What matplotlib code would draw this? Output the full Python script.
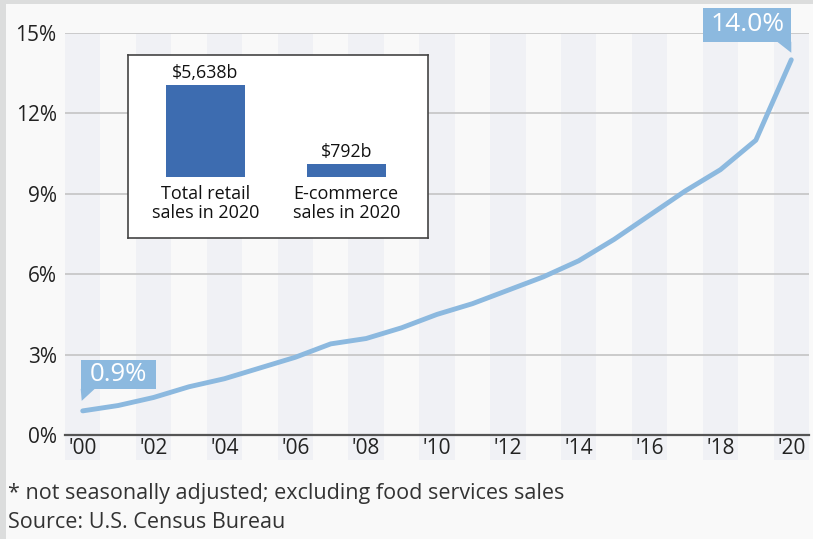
import numpy as np
import matplotlib.pyplot as plt
from matplotlib.patches import Rectangle, Polygon
from matplotlib.transforms import IdentityTransform

plt.rcParams["font.family"] = ["Open Sans", "DejaVu Sans"]

# e-commerce share of total retail sales (%)
years = np.arange(2000, 2021)
share = [0.9, 1.1, 1.4, 1.8, 2.1, 2.5, 2.9, 3.4, 3.6, 4.0, 4.5,
         4.9, 5.4, 5.9, 6.5, 7.3, 8.2, 9.1, 9.9, 11.0, 14.0]
yticks = [0, 3, 6, 9, 12, 15]
xticks = years[::2]

# inset bars (billion USD)
inset_labels = ["Total retail\nsales in 2020", "E-commerce\nsales in 2020"]
inset_values = [5638, 792]
inset_text = ["$5,638b", "$792b"]

bg = "#f9f9f9"
line_col = "#8cb9df"
bar_col = "#3d6cb0"

fig = plt.figure(figsize=(8.13, 5.39), dpi=100, facecolor=bg)
W, H = 813, 539
ax = fig.add_axes([65 / W, 104 / H, 744 / W, 402 / H])
ax.set_facecolor(bg)
ax.set_xlim(1999.5, 2020.5)
ax.set_ylim(0, 15)

# alternating year stripes, running down behind the tick labels
for yr in years[::2]:
    ax.axvspan(yr - 0.5, min(yr + 0.5, 2020.5), ymin=-25 / 402, ymax=1,
               color="#f0f1f5", lw=0, clip_on=False, zorder=0)

for t in yticks[1:]:
    ax.axhline(t, color="#c4c4c4", lw=1.2, zorder=1)

ax.plot(years, share, color=line_col, lw=3.5, solid_capstyle="round",
        solid_joinstyle="round", zorder=3)

for s in ["top", "right", "left"]:
    ax.spines[s].set_visible(False)
ax.spines["bottom"].set_color("#555555")
ax.spines["bottom"].set_linewidth(1.6)
ax.spines["bottom"].set_zorder(4)

ax.set_yticks(yticks)
ax.set_yticklabels([f"{t}%" for t in yticks])
ax.set_xticks(xticks)
ax.set_xticklabels([f"'{y % 100:02d}" for y in xticks])
ax.tick_params(axis="both", length=0, labelsize=15, colors="#222222")
ax.tick_params(axis="y", pad=6)
ax.tick_params(axis="x", pad=2)


def callout(x, y, text, dx, dy, w, h, side, fs):
    """label box placed dx/dy pixels from the point, with a small tail"""
    px, py = ax.transData.transform((x, y))
    bx, by = px + dx, py + dy
    fig.patches.append(Rectangle((bx, by), w, h, transform=IdentityTransform(),
                                 facecolor=line_col, edgecolor="none", zorder=5))
    if side == "left":
        tail = [(bx, by), (bx + 14, by), (bx + 1, by - 12)]
    else:
        tail = [(bx + w, by), (bx + w - 14, by), (bx + w, by - 11)]
    fig.patches.append(Polygon(tail, closed=True, transform=IdentityTransform(),
                               facecolor=line_col, edgecolor="none", zorder=5))
    fig.text(bx + w / 2, by + h / 2, text, transform=IdentityTransform(),
             ha="center", va="center", color="white", fontsize=fs, zorder=6)


callout(years[0], share[0], f"{share[0]:.1f}%", -2, 22, 75, 29, "left", 18.5)
callout(years[-1], share[-1], f"{share[-1]:.1f}%", -88, 18, 88, 34, "right", 19)

# inset with the two bars
ins = fig.add_axes([128 / W, 301 / H, 300 / W, 183 / H])
ins.set_facecolor("white")
for s in ins.spines.values():
    s.set_color("#444444")
    s.set_linewidth(1.2)
ins.set_xticks([])
ins.set_yticks([])
ins.set_xlim(-0.55, 1.58)
ins.set_ylim(-3738, 7477)
pos = np.arange(len(inset_values))
ins.bar(pos, inset_values, width=0.56, color=bar_col)
for p, v, t, lab in zip(pos, inset_values, inset_text, inset_labels):
    ins.annotate(t, (p, v), xytext=(0, 2), textcoords="offset points",
                 ha="center", va="bottom", fontsize=12.8, color="#111111")
    ins.annotate(lab, (p, 0), xytext=(0, -6), textcoords="offset points",
                 ha="center", va="top", fontsize=13, color="#111111",
                 linespacing=1.05)

fig.text(8 / W, 1 - 493 / H, "* not seasonally adjusted; excluding food services sales",
         fontsize=15.5, color="#333333", va="center")
fig.text(8 / W, 1 - 523 / H, "Source: U.S. Census Bureau",
         fontsize=15.5, color="#333333", va="center")

# light grey frame on the top and left edges
fig.patches.append(Rectangle((0, 0), 6 / W, 1, transform=fig.transFigure,
                             facecolor="#dcdddd", edgecolor="none"))
fig.patches.append(Rectangle((0, 1 - 4 / H), 1, 4 / H, transform=fig.transFigure,
                             facecolor="#dcdddd", edgecolor="none"))

fig.savefig("out.png", dpi=100, facecolor=bg)
